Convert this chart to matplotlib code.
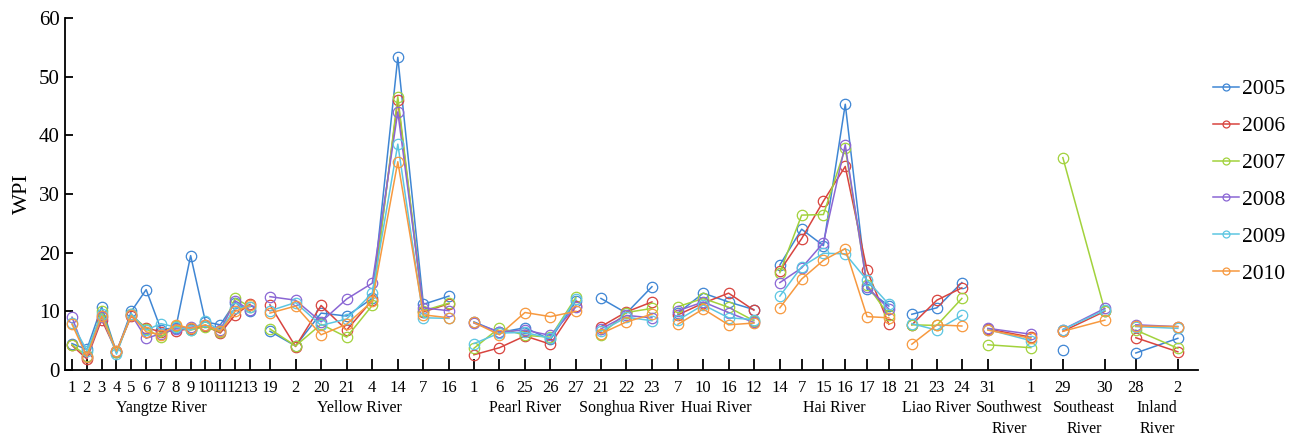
import numpy as np
import matplotlib
matplotlib.use("Agg")
import matplotlib.pyplot as plt
from matplotlib.lines import Line2D
import matplotlib.transforms as mtransforms

plt.rcParams['font.family'] = ['Liberation Serif', 'DejaVu Serif']

# river basins and the station numbers along each one
groups = ["Yangtze River", "Yellow River", "Pearl River", "Songhua River", "Huai River",
          "Hai River", "Liao River", "Southwest\nRiver", "Southeast\nRiver", "Inland\nRiver"]
stations = [
    ["1", "2", "3", "4", "5", "6", "7", "8", "9", "10", "11", "12", "13"],
    ["19", "2", "20", "21", "4", "14", "7", "16"],
    ["1", "6", "25", "26", "27"],
    ["21", "22", "23"],
    ["7", "10", "16", "12"],
    ["14", "7", "15", "16", "17", "18"],
    ["21", "23", "24"],
    ["31", "1"],
    ["29", "30"],
    ["28", "2"],
]

years = ["2005", "2006", "2007", "2008", "2009", "2010"]
nan = np.nan

wpi_2005 = [4.5, 3.5, 10.8, 3.0, 10.0, 13.7, 6.9, 7.2, 19.5, 8.2, 7.7, 11.5, 10.0,
            6.6, 4.1, 9.7, 9.2, 12.2, 53.3, 11.2, 12.6,
            8.2, 6.4, 7.2, 5.2, 11.8,
            12.2, 9.7, 14.2,
            9.7, 13.1, 11.6, 10.3,
            17.9, 24.0, 21.2, 45.3, 13.8, 10.9,
            9.5, 10.6, 14.9,
            nan, nan,
            3.4, nan,
            2.9, 5.4]
wpi_2006 = [4.2, 1.9, 8.6, 3.1, 9.2, 7.2, 6.5, 6.7, 7.0, 7.5, 6.3, 9.4, 11.2,
            11.1, 4.0, 11.0, 6.8, 11.9, 46.0, 9.9, 11.3,
            2.6, 3.8, 5.8, 4.4, 10.9,
            7.4, 9.9, 11.6,
            9.4, 11.4, 13.1, 10.2,
            16.9, 22.4, 28.8, 34.7, 17.0, 7.8,
            7.7, 11.9, 14.0,
            7.0, 5.6,
            6.6, 10.0,
            5.5, 3.1]
wpi_2007 = [4.3, 2.4, 10.0, 3.0, 9.5, 7.0, 5.6, 7.5, 6.8, 7.4, 6.5, 12.2, 10.8,
            7.0, 4.1, 7.8, 5.6, 11.0, 46.6, 10.1, 11.4,
            3.7, 7.2, 5.9, 5.6, 12.4,
            6.0, 9.8, 10.5,
            10.8, 12.2, 10.7, 8.4,
            16.6, 26.4, 26.5, 37.8, 14.5, 9.3,
            7.7, 7.6, 12.2,
            4.3, 3.8,
            36.2, 10.1,
            6.8, 3.7]
wpi_2008 = [9.0, 2.2, 9.0, 3.2, 9.4, 5.4, 6.2, 7.0, 7.3, 7.6, 6.8, 11.8, 10.2,
            12.5, 11.9, 8.2, 12.1, 14.8, 44.0, 10.6, 10.1,
            8.0, 6.5, 6.8, 5.9, 10.8,
            7.0, 9.3, 8.9,
            10.1, 11.6, 9.8, 8.1,
            14.9, 17.4, 21.7, 38.4, 14.2, 10.4,
            nan, nan, nan,
            7.1, 6.1,
            6.9, 10.5,
            7.7, 7.4]
wpi_2009 = [8.0, 3.3, 9.5, 2.7, 9.6, 6.8, 7.9, 7.3, 6.8, 8.3, 6.7, 10.6, 10.8,
            10.1, 11.5, 7.6, 8.7, 13.1, 38.5, 8.9, 8.8,
            4.5, 6.3, 6.4, 5.4, 12.1,
            6.6, 9.0, 8.4,
            8.5, 11.1, 8.9, 8.6,
            12.6, 17.6, 19.9, 19.8, 15.3, 11.2,
            7.9, 6.8, 9.3,
            6.9, 5.0,
            6.9, 10.2,
            7.4, 7.1]
wpi_2010 = [7.8, 2.3, 9.2, 3.2, 9.3, 6.5, 6.0, 7.7, 7.1, 7.7, 6.6, 10.0, 11.0,
            9.7, 10.9, 6.0, 7.8, 11.7, 35.5, 9.4, 8.9,
            8.1, 6.0, 9.8, 9.1, 10.0,
            6.2, 8.2, 9.5,
            7.8, 10.4, 7.7, 8.0,
            10.6, 15.5, 18.7, 20.7, 9.1, 8.9,
            4.4, 7.7, 7.5,
            6.8, 5.4,
            6.6, 8.5,
            7.5, 7.4]
series = [wpi_2005, wpi_2006, wpi_2007, wpi_2008, wpi_2009, wpi_2010]
colors = ["#3f86d4", "#d8443f", "#a2d23c", "#8a66d4", "#5cc6e2", "#f7993f"]

# horizontal layout: step between stations inside a group, gap before each group
group_step = [14.83, 25.57, 25.5, 25.5, 25.3, 21.8, 25.0, 43.0, 42.0, 42.0]
group_gap = [7, 20, 25, 25, 26, 26, 23, 26, 32, 31]

xpos, labels, spans = [], [], []
cur = 65.0
for g, st in enumerate(stations):
    start = cur + group_gap[g]
    xs = start + group_step[g] * np.arange(len(st))
    xpos.extend(xs)
    labels.extend(st)
    spans.append((len(xpos) - len(st), len(xpos)))
    cur = xs[-1]
xpos = np.array(xpos)

fig = plt.figure(figsize=(12.92, 4.36), dpi=100)
ax = fig.add_axes([65 / 1292, 66 / 436, (1198 - 65) / 1292, 352 / 436])

for vals, c in zip(series, colors):
    vals = np.array(vals, dtype=float)
    for a, b in spans:
        ax.plot(xpos[a:b], vals[a:b], color=c, lw=1.1, marker='o', ms=7.5,
                mfc='none', mec=c, mew=0.9)

ax.set_xlim(65, 1198)
ax.set_ylim(0, 60)
ax.set_yticks(np.arange(0, 61, 10))
ax.set_xticks(xpos)
ax.set_xticklabels(labels)
ax.tick_params(axis='x', direction='in', length=8, width=1.3, pad=7, labelsize=12)
ax.tick_params(axis='y', direction='in', length=6, width=1.3, pad=4, labelsize=15)
for s in ['top', 'right']:
    ax.spines[s].set_visible(False)
for s in ['left', 'bottom']:
    ax.spines[s].set_linewidth(1.3)

ax.set_ylabel("WPI", fontsize=16, labelpad=5)

trans = mtransforms.blended_transform_factory(ax.transData, ax.transAxes)
for g, (a, b) in enumerate(spans):
    cx = (xpos[a] + xpos[b - 1]) / 2
    ax.text(cx, -0.085, groups[g], transform=trans, ha='center', va='top',
            fontsize=11.5, linespacing=1.45)

handles = [Line2D([], [], color=c, lw=1.1, marker='o', ms=5, mfc='none', mec=c, mew=0.9)
           for c in colors]
fig.legend(handles, years, loc='upper left', bbox_to_anchor=(1194 / 1292, 1 - 60 / 436),
           frameon=False, fontsize=15.5, handlelength=1.2, handletextpad=0.15,
           labelspacing=0.78)

fig.savefig("out.png", dpi=100)
